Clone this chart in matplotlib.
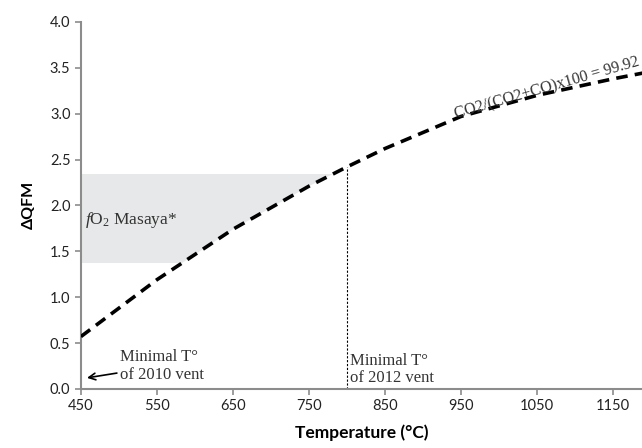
import numpy as np
import matplotlib
matplotlib.use("Agg")
import matplotlib.pyplot as plt
from matplotlib.patches import Polygon

# curve values
temp = [450, 550, 650, 750, 800, 850, 950, 1050, 1150, 1200]
dqfm = [0.57, 1.19, 1.74, 2.21, 2.42, 2.62, 2.97, 3.20, 3.38, 3.46]

# Masaya fO2 band and vent temperatures
masaya_lo, masaya_hi = 1.37, 2.34
vent_2010 = 450
vent_2012 = 800

xticks = [450, 550, 650, 750, 850, 950, 1050, 1150]
yticks = [0.0, 0.5, 1.0, 1.5, 2.0, 2.5, 3.0, 3.5, 4.0]

plt.rcParams['font.family'] = ['Lato', 'DejaVu Sans']
plt.rcParams['mathtext.fontset'] = 'custom'
plt.rcParams['mathtext.rm'] = 'Liberation Serif'
plt.rcParams['mathtext.it'] = 'Liberation Serif:italic'

axis_grey = '#8c8c8c'
serif = 'Liberation Serif'
note_col = '#333333'

fig = plt.figure(figsize=(6.42, 4.48), dpi=100)
ax = fig.add_axes([0.126, 0.132, 0.874, 0.819])

# grey band, only above / left of the curve
band = ax.fill_between([temp[0], temp[-1]], masaya_lo, masaya_hi,
                       color='#e7e8e9', lw=0, zorder=1)
clip_pts = list(zip(temp, dqfm)) + [(temp[-1], 5), (temp[0], 5)]
clip = Polygon(clip_pts, closed=True, transform=ax.transData)
band.set_clip_path(clip)

ax.plot(temp, dqfm, color='black', lw=2.6, dashes=(3.2, 2.0),
        solid_capstyle='butt', zorder=3, clip_on=True)

# 2012 vent
y_2012 = np.interp(vent_2012, temp, dqfm)
ax.plot([vent_2012, vent_2012], [0, y_2012], color='black', lw=0.8,
        ls=(0, (2, 1.5)), zorder=2)

ax.text(455, 1.84, '$f$O$_2$ Masaya*', family=serif, fontsize=12.5,
        va='center', ha='left', color=note_col)
ax.text(1063, 3.28, 'CO2/(CO2+CO)x100 = 99.92', family=serif, fontsize=11.5,
        rotation=16, rotation_mode='anchor', ha='center', va='center',
        color=note_col)
ax.annotate('Minimal T°\nof 2010 vent', xy=(vent_2010 + 8, 0.12),
            xytext=(501, 0.25), family=serif, fontsize=12, va='center',
            ha='left', color=note_col, linespacing=1.12,
            arrowprops=dict(arrowstyle='->', color='black', lw=1.2,
                            shrinkA=0, shrinkB=0))
ax.text(vent_2012 + 4, 0.21, 'Minimal T°\nof 2012 vent', family=serif,
        fontsize=12, va='center', ha='left', color=note_col, linespacing=1.12)

ax.set_xlim(450, 1188)
ax.set_ylim(0, 4)
ax.set_xticks(xticks)
ax.set_yticks(yticks)
ax.set_yticklabels(['{:.1f}'.format(v) for v in yticks])
ax.tick_params(axis='both', colors=axis_grey, labelcolor='#222222',
               labelsize=10.5, length=4, width=1.2)

for side in ['top', 'right']:
    ax.spines[side].set_visible(False)
for side in ['left', 'bottom']:
    ax.spines[side].set_color(axis_grey)
    ax.spines[side].set_linewidth(1.5)

ax.set_xlabel('Temperature (°C)', fontsize=12.5, fontweight='bold', labelpad=8)
ax.set_ylabel('ΔQFM', fontsize=11.5, fontweight='bold', labelpad=10)

fig.savefig('out.png', dpi=100)
